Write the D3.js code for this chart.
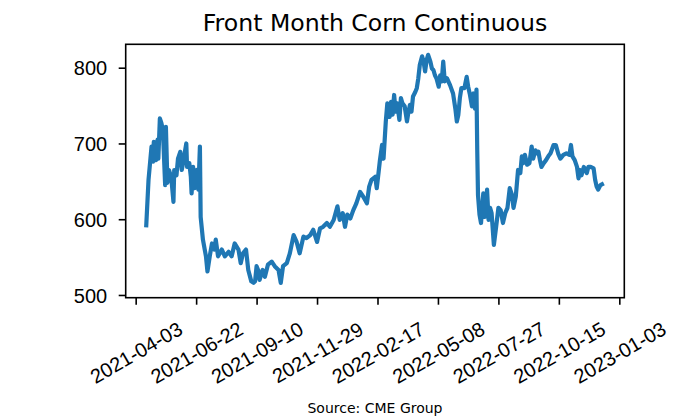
<!DOCTYPE html>
<html>
<head>
<meta charset="utf-8">
<script src="https://cdn.jsdelivr.net/npm/d3@7"></script>
<style>
  html, body { margin: 0; padding: 0; background: #fff; }
  svg { display: block; font-family: "DejaVu Sans", sans-serif; }
</style>
</head>
<body>
<svg id="chart" width="700" height="420"></svg>
<script>
const dates = ["2021-04-17","2021-04-20","2021-04-24","2021-04-26","2021-04-27","2021-04-30","2021-05-02","2021-05-03","2021-05-05","2021-05-07","2021-05-09","2021-05-12","2021-05-13","2021-05-15","2021-05-17","2021-05-20","2021-05-23","2021-05-24","2021-05-27","2021-05-29",
"2021-06-01","2021-06-03","2021-06-05","2021-06-09","2021-06-10","2021-06-13","2021-06-15","2021-06-16","2021-06-18","2021-06-20","2021-06-23","2021-06-25","2021-06-27","2021-06-28","2021-07-01","2021-07-05","2021-07-07","2021-07-10","2021-07-13","2021-07-16",
"2021-07-18","2021-07-21","2021-07-26","2021-07-30","2021-08-04","2021-08-08","2021-08-12","2021-08-17","2021-08-20","2021-08-23","2021-08-27","2021-08-30","2021-09-03","2021-09-06","2021-09-08","2021-09-10","2021-09-12","2021-09-14","2021-09-18","2021-09-21",
"2021-09-25","2021-09-30","2021-10-04","2021-10-09","2021-10-12","2021-10-15","2021-10-20","2021-10-24","2021-10-29","2021-11-02","2021-11-06","2021-11-11","2021-11-15","2021-11-20","2021-11-24","2021-11-29","2021-12-03","2021-12-07","2021-12-12","2021-12-16",
"2021-12-21","2021-12-26","2021-12-29","2022-01-02","2022-01-05","2022-01-08","2022-01-12","2022-01-16","2022-01-20","2022-01-25","2022-01-29","2022-02-03","2022-02-06","2022-02-09","2022-02-14","2022-02-16","2022-02-18","2022-02-20","2022-02-23","2022-02-25",
"2022-02-28","2022-03-02","2022-03-05","2022-03-07","2022-03-09","2022-03-11","2022-03-13","2022-03-15","2022-03-18","2022-03-20","2022-03-22","2022-03-25","2022-03-28","2022-03-30","2022-04-01","2022-04-03","2022-04-05","2022-04-08","2022-04-10","2022-04-12",
"2022-04-14","2022-04-17","2022-04-19","2022-04-21","2022-04-23","2022-04-25","2022-04-28","2022-04-30","2022-05-02","2022-05-04","2022-05-06","2022-05-09","2022-05-11","2022-05-13","2022-05-15","2022-05-17","2022-05-20","2022-05-24","2022-05-28","2022-05-31",
"2022-06-02","2022-06-04","2022-06-06","2022-06-08","2022-06-12","2022-06-15","2022-06-17","2022-06-19","2022-06-22","2022-06-24","2022-06-26","2022-06-28","2022-06-29","2022-06-30","2022-07-02","2022-07-04","2022-07-07","2022-07-09","2022-07-12","2022-07-14",
"2022-07-16","2022-07-18","2022-07-21","2022-07-24","2022-07-27","2022-07-30","2022-08-02","2022-08-05","2022-08-08","2022-08-11","2022-08-14","2022-08-16","2022-08-19","2022-08-22","2022-08-25","2022-08-27","2022-08-29","2022-08-31","2022-09-03","2022-09-06",
"2022-09-09","2022-09-11","2022-09-14","2022-09-16","2022-09-18","2022-09-20","2022-09-22","2022-09-25","2022-09-28","2022-10-01","2022-10-04","2022-10-08","2022-10-11","2022-10-14","2022-10-17","2022-10-21","2022-10-25","2022-10-29","2022-10-31","2022-11-02",
"2022-11-05","2022-11-08","2022-11-10","2022-11-12","2022-11-14","2022-11-17","2022-11-21","2022-11-23","2022-11-26","2022-11-30","2022-12-02","2022-12-04","2022-12-06","2022-12-09","2022-12-11"];

const prices = [592,652,696,676,702,678,705,680,733,727,718,645,722,648,665,656,623,665,658,680,
689,665,676,700,669,674,656,634,669,641,665,639,696,603,573,551,531,551,568,560,
573,551,560,551,557,551,568,560,542,555,560,533,518,516,518,538,533,520,533,524,
540,544,538,533,516,538,542,555,579,570,555,577,575,579,586,570,588,590,595,590,
599,617,599,608,590,606,601,612,621,636,630,621,643,652,656,641,658,676,698,680,
729,753,735,755,738,764,742,753,731,760,753,749,729,742,751,742,762,768,773,786,
804,815,808,795,810,817,808,799,797,790,786,775,790,782,808,782,786,777,766,746,
729,738,760,773,773,788,775,766,749,766,746,771,691,632,606,595,634,603,639,599,
615,608,566,590,615,612,595,608,615,641,632,615,630,665,661,683,674,685,672,674,
696,680,691,687,689,678,669,674,678,683,687,698,698,687,680,685,687,685,698,683,
678,669,654,665,658,669,661,669,669,667,652,643,639,645,646];

const xTickLabels = ["2021-04-03","2021-06-22","2021-09-10","2021-11-29","2022-02-17","2022-05-08","2022-07-27","2022-10-15","2023-01-03"];
const yTickValues = [500, 600, 700, 800];
const titleText = "Front Month Corn Continuous";
const sourceText = "Source: CME Group";

const parse = d3.utcParse("%Y-%m-%d");
const data = dates.map((d, i) => ({ date: parse(d), value: prices[i] }));

const L = 125.7, R = 624.3, T = 44.3, B = 297.7;
const DAY = 86400000;
const anchor = parse("2021-04-03").getTime();

const x = d3.scaleUtc()
  .domain([new Date(anchor - 13.2 * DAY), new Date(anchor + 646.6 * DAY)])
  .range([L, R]);
const y = d3.scaleLinear()
  .domain([496.4, 830.9])
  .range([B, T]);

const svg = d3.select("#chart");

// line
const line = d3.line().x(d => x(d.date)).y(d => y(d.value));
svg.append("path")
  .datum(data)
  .attr("fill", "none")
  .attr("stroke", "#1f77b4")
  .attr("stroke-width", 4.2)
  .attr("stroke-linejoin", "round")
  .attr("stroke-linecap", "square")
  .attr("d", line);

// frame
svg.append("rect")
  .attr("x", L).attr("y", T)
  .attr("width", R - L).attr("height", B - T)
  .attr("fill", "none").attr("stroke", "#000").attr("stroke-width", 1.6);

// x axis
const xAxis = d3.axisBottom(x)
  .tickValues(xTickLabels.map(parse))
  .tickFormat(d3.utcFormat("%Y-%m-%d"))
  .tickSize(7).tickSizeOuter(0);
const gx = svg.append("g").attr("transform", `translate(0,${B})`).call(xAxis);
gx.select(".domain").remove();
gx.selectAll(".tick line").attr("stroke", "#000").attr("stroke-width", 1.6);
gx.selectAll(".tick text")
  .attr("fill", "#000")
  .style("font-size", "20px")
  .attr("text-anchor", "middle")
  .attr("x", 0).attr("y", 0).attr("dy", "0.36em")
  .attr("transform", `translate(0,${352.4 - B}) rotate(-30)`);

// y axis
const yAxis = d3.axisLeft(y).tickValues(yTickValues).tickSize(7).tickSizeOuter(0);
const gy = svg.append("g").attr("transform", `translate(${L},0)`).call(yAxis);
gy.select(".domain").remove();
gy.selectAll(".tick line").attr("stroke", "#000").attr("stroke-width", 1.6);
gy.selectAll(".tick text")
  .attr("fill", "#000")
  .style("font-size", "20px")
  .attr("x", -18.5)
  .attr("dy", "0.36em");

// title
svg.append("text")
  .attr("x", (L + R) / 2).attr("y", 30.7)
  .attr("text-anchor", "middle")
  .style("font-size", "23.6px")
  .attr("fill", "#000")
  .text(titleText);

// source
svg.append("text")
  .attr("x", (L + R) / 2).attr("y", 413.3)
  .attr("text-anchor", "middle")
  .style("font-size", "14px")
  .attr("fill", "#000")
  .text(sourceText);
</script>
</body>
</html>
